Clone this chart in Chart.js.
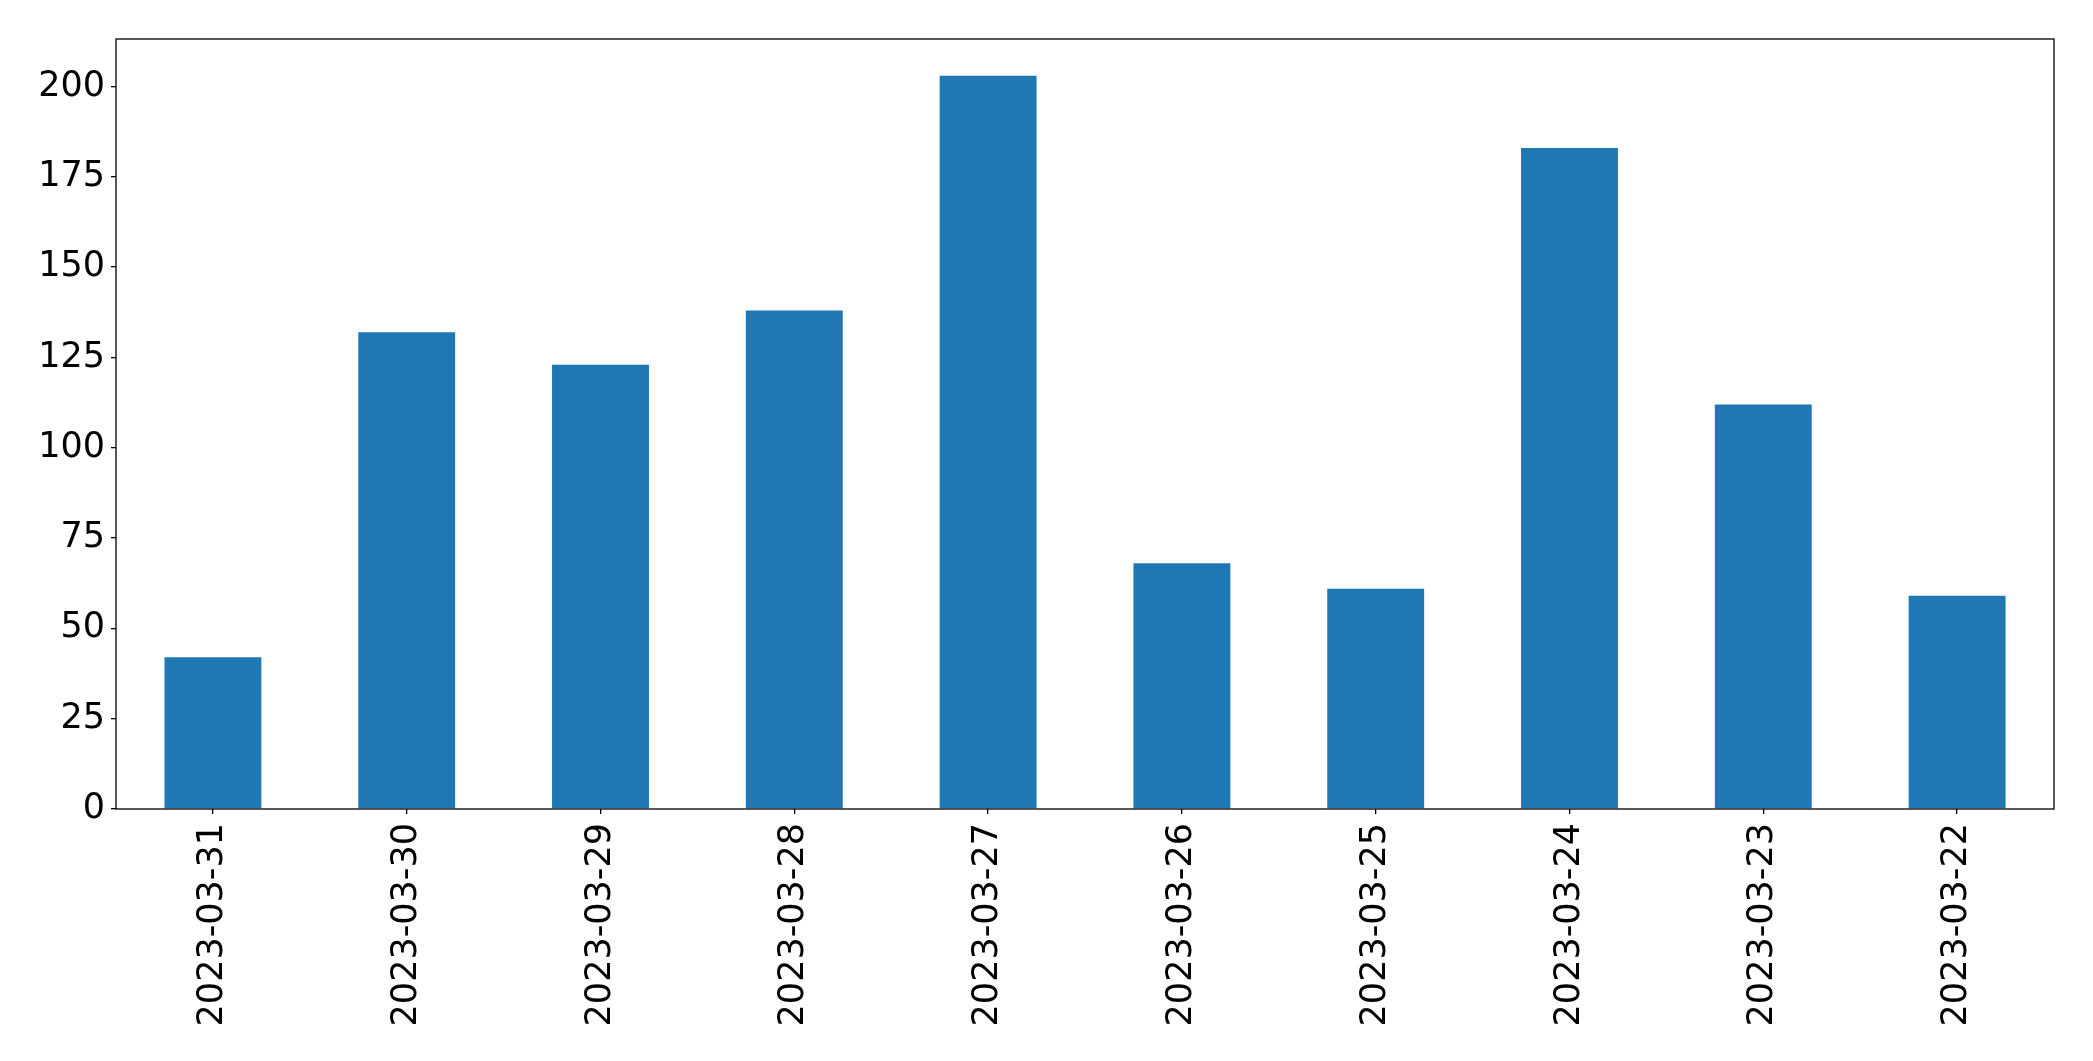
<!DOCTYPE html>
<html>
<head>
<meta charset="utf-8">
<script src="https://cdn.jsdelivr.net/npm/chart.js@4/dist/chart.umd.min.js"></script>
<style>
  html, body { margin: 0; padding: 0; background: #ffffff; }
  #wrap { width: 2093px; height: 1061px; position: relative; }
</style>
</head>
<body>
<div id="wrap"><canvas id="c" width="2093" height="1061"></canvas></div>
<script>
const categories = ["2023-03-31", "2023-03-30", "2023-03-29", "2023-03-28", "2023-03-27",
                    "2023-03-26", "2023-03-25", "2023-03-24", "2023-03-23", "2023-03-22"];
const values = [42, 132, 123, 138, 203, 68, 61, 183, 112, 59];
const yTicks = [0, 25, 50, 75, 100, 125, 150, 175, 200];
const yMax = 213.15;

const frame = {
  id: 'frame',
  afterDraw(chart) {
    const a = chart.chartArea, ctx = chart.ctx;
    ctx.save();
    ctx.strokeStyle = '#000000';
    ctx.lineWidth = 1.3;
    ctx.strokeRect(a.left, a.top, a.right - a.left, a.bottom - a.top);
    ctx.restore();
  }
};

const font = { family: 'DejaVu Sans', size: 35 };

new Chart(document.getElementById('c'), {
  type: 'bar',
  data: {
    labels: categories,
    datasets: [{
      data: values,
      backgroundColor: '#1f77b4',
      borderWidth: 0,
      barPercentage: 0.5,
      categoryPercentage: 1.0
    }]
  },
  options: {
    responsive: false,
    animation: false,
    devicePixelRatio: 1,
    layout: { padding: { top: 39, right: 39, left: 0, bottom: 0 } },
    plugins: { legend: { display: false }, tooltip: { enabled: false } },
    scales: {
      x: {
        type: 'category',
        offset: true,
        grid: { display: true, offset: false, drawOnChartArea: false, drawTicks: true, tickLength: 5, color: '#000000', lineWidth: 1.3 },
        border: { display: false },
        ticks: { color: '#000000', font: font, minRotation: 90, maxRotation: 90, autoSkip: false, padding: 9 },
        afterFit(s) { s.height = 1061 - 809; }
      },
      y: {
        min: 0,
        max: yMax,
        grid: { display: true, drawOnChartArea: false, drawTicks: true, tickLength: 5, color: '#000000', lineWidth: 1.3 },
        border: { display: false },
        ticks: { color: '#000000', font: font, padding: 6, stepSize: 25 },
        afterBuildTicks(s) { s.ticks = yTicks.map(v => ({ value: v })); },
        afterFit(s) { s.width = 116; }
      }
    }
  },
  plugins: [frame]
});
</script>
</body>
</html>
